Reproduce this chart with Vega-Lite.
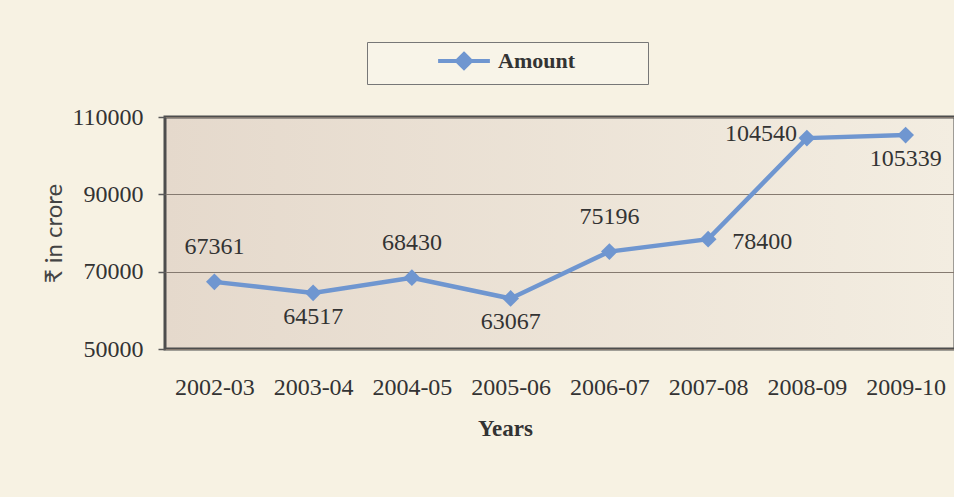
{
  "$schema": "https://vega.github.io/schema/vega-lite/v6.json",
  "autosize": "none",
  "width": 790,
  "height": 232,
  "padding": {"left": 165, "top": 117, "right": 0, "bottom": 148},
  "background": "#f7f2e3",
  "config": {
    "view": {
      "stroke": "#4d4d4d",
      "strokeWidth": 3,
      "fill": {"gradient": "linear", "x1": 0, "x2": 1, "y1": 0, "y2": 0, "stops": [{"offset": 0, "color": "#e5d9cc"}, {"offset": 1, "color": "#f3ede1"}]}
    },
    "text": {"font": "Liberation Serif", "fontSize": 24, "color": "#333333"}
  },
  "data": {
    "values": [
      {"Year": "2002-03", "Amount": 67361},
      {"Year": "2003-04", "Amount": 64517},
      {"Year": "2004-05", "Amount": 68430},
      {"Year": "2005-06", "Amount": 63067},
      {"Year": "2006-07", "Amount": 75196},
      {"Year": "2007-08", "Amount": 78400},
      {"Year": "2008-09", "Amount": 104540},
      {"Year": "2009-10", "Amount": 105339}
    ]
  },
  "encoding": {
    "x": {
      "field": "Year", "type": "nominal", "sort": null,
      "scale": {"paddingInner": 0, "paddingOuter": 0},
      "axis": {
        "labelAngle": 0, "ticks": false, "domain": false,
        "labelFont": "Liberation Serif", "labelFontSize": 24, "labelColor": "#333333",
        "labelPadding": 26, "labelBaseline": "top",
        "title": "Years", "titleFont": "Liberation Serif", "titleFontSize": 23, "titleFontWeight": "bold", "titleColor": "#333333",
        "titleX": 340, "titleY": 68, "titleAnchor": "middle", "titleBaseline": "top"
      }
    },
    "y": {
      "field": "Amount", "type": "quantitative",
      "scale": {"domain": [50000, 110000], "nice": false, "zero": false},
      "axis": {
        "values": [50000, 70000, 90000, 110000], "format": "d",
        "domain": false, "tickSize": 7, "tickColor": "#5a5a5a", "tickWidth": 1.5,
        "grid": true, "gridColor": "#857a70", "gridWidth": 1.2,
        "labelFont": "Liberation Serif", "labelFontSize": 24, "labelColor": "#333333", "labelPadding": 15,
        "title": "₹ in crore", "titleFont": "Lato", "titleFontSize": 24, "titleFontWeight": "normal", "titleColor": "#444444",
        "titlePadding": 20, "titleX": -99
      }
    }
  },
  "layer": [
    {
      "mark": {"type": "line", "strokeWidth": 4.5, "point": {"shape": "diamond", "size": 280, "filled": true, "color": "#6f96d0", "opacity": 1}},
      "encoding": {
        "color": {
          "datum": "Amount", "type": "nominal",
          "scale": {"range": ["#6f96d0"]},
          "legend": {
            "orient": "none", "legendX": 202, "legendY": -75, "title": null,
            "strokeColor": "#777777", "fillColor": "#f8f4e8", "padding": 8,
            "symbolType": "M-3.7,0L3.7,0M0,-1L1,0L0,1L-1,0ZM23.9,0", "symbolSize": 196,
            "symbolStrokeWidth": 4, "symbolFillColor": "#6f96d0", "symbolStrokeColor": "#6f96d0",
            "symbolOffset": 78, "labelOffset": 23,
            "labelFont": "Liberation Serif", "labelFontSize": 22, "labelFontWeight": "bold", "labelColor": "#333333"
          }
        }
      }
    },
    {
      "transform": [{"filter": {"field": "Year", "oneOf": ["2002-03", "2004-05", "2006-07"]}}],
      "mark": {"type": "text", "dy": -35, "align": "center", "baseline": "middle"},
      "encoding": {"text": {"field": "Amount", "type": "quantitative", "format": "d"}}
    },
    {
      "transform": [{"filter": {"field": "Year", "oneOf": ["2003-04", "2005-06", "2009-10"]}}],
      "mark": {"type": "text", "dy": 24, "align": "center", "baseline": "middle"},
      "encoding": {"text": {"field": "Amount", "type": "quantitative", "format": "d"}}
    },
    {
      "transform": [{"filter": {"field": "Year", "equal": "2007-08"}}],
      "mark": {"type": "text", "dx": 24, "dy": 3, "align": "left", "baseline": "middle"},
      "encoding": {"text": {"field": "Amount", "type": "quantitative", "format": "d"}}
    },
    {
      "transform": [{"filter": {"field": "Year", "equal": "2008-09"}}],
      "mark": {"type": "text", "dx": -10, "dy": -4, "align": "right", "baseline": "middle"},
      "encoding": {"text": {"field": "Amount", "type": "quantitative", "format": "d"}}
    }
  ]
}
